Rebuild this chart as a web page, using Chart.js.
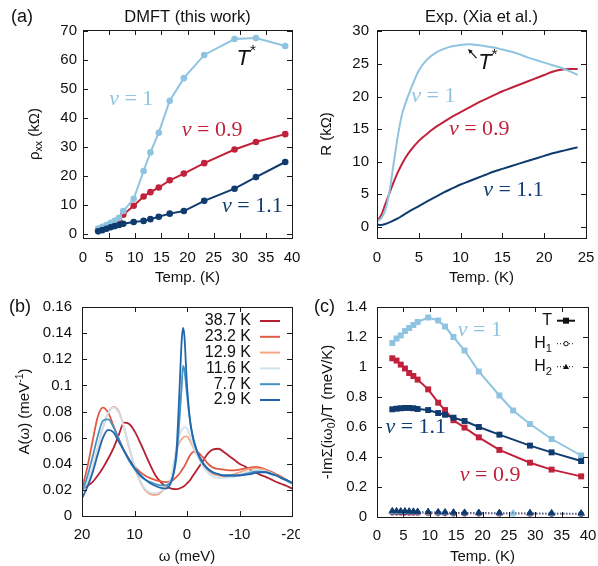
<!DOCTYPE html>
<html lang="en">
<head>
<meta charset="UTF-8">
<title>DMFT vs experiment</title>
<script src="https://cdn.jsdelivr.net/npm/chart.js"></script>
<style>
  body { margin: 0; background: #fff; }
  #wrap { position: relative; width: 598px; height: 566px; overflow: hidden; background: #fff; }
  canvas { position: absolute; }
</style>
</head>
<body>
<div id="wrap">
  <canvas id="dmft" width="300" height="290" style="left:0;top:0"></canvas>
  <canvas id="exp" width="298" height="290" style="left:300px;top:0"></canvas>
  <canvas id="spec" width="300" height="286" style="left:0;top:280px"></canvas>
  <canvas id="sigma" width="298" height="286" style="left:300px;top:280px"></canvas>
</div>
<script>
// ---- data ----
// (a) DMFT resistivity, kOhm
const tempA = [2.9, 3.7, 4.5, 5.3, 6.1, 6.9, 7.7, 9.7, 11.6, 12.9, 14.5, 16.6, 19.3, 23.2, 29.0, 33.1, 38.7];
const rhoNu1  = [1.9, 2.5, 3.1, 3.8, 4.5, 5.6, 7.9, 12.1, 21.7, 28.1, 34.9, 45.9, 53.7, 61.7, 67.2, 67.5, 64.8];
const rhoNu09 = [1.4, 1.9, 2.5, 3.1, 3.8, 4.8, 6.6, 9.7, 12.9, 14.4, 16.0, 18.5, 20.8, 24.4, 29.1, 31.7, 34.4];
const rhoNu11 = [0.9, 1.3, 1.8, 2.3, 2.7, 3.1, 3.5, 4.1, 4.5, 5.1, 5.9, 7.0, 7.9, 11.4, 15.6, 19.6, 24.8];

// (a) experiment, kOhm
const expT    = [0, 0.5, 1, 1.5, 2, 2.5, 3, 3.5, 4, 5, 6, 7, 8, 9, 10, 11, 12, 13, 14, 15, 16, 17, 18, 19, 20, 21, 22, 23, 24];
const expNu1  = [0.9, 1.3, 2.6, 5.5, 9.8, 14.0, 17.3, 19.3, 21.0, 24.0, 25.7, 26.7, 27.3, 27.7, 27.9, 28.0, 27.9, 27.7, 27.5, 27.2, 26.9, 26.5, 26.0, 25.6, 25.2, 24.8, 24.4, 23.9, 23.3];
const expNu09 = [0.8, 1.8, 3.5, 5.2, 6.9, 8.4, 9.7, 10.8, 11.7, 13.2, 14.3, 15.3, 16.1, 16.9, 17.6, 18.3, 19.0, 19.6, 20.2, 20.8, 21.3, 21.8, 22.3, 22.8, 23.3, 23.8, 24.1, 24.2, 24.2];
const expNu11 = [0.35, 0.3, 0.45, 0.7, 1.0, 1.3, 1.7, 2.1, 2.5, 3.2, 3.9, 4.6, 5.3, 5.9, 6.5, 7.0, 7.5, 8.0, 8.5, 8.9, 9.3, 9.7, 10.1, 10.5, 10.9, 11.3, 11.6, 11.9, 12.2];

// (b) spectral functions, meV^-1
const omega = [20, 19, 18, 17, 16, 15, 14, 13, 12, 11, 10, 9, 8, 7, 6, 5, 4, 3, 2.5, 2, 1.5, 1, 0.75, 0.5, 0,
               -0.5, -1, -1.5, -2, -3, -4, -5, -6, -7, -8, -9, -10, -11, -12, -13, -14, -15, -16, -17, -18, -19, -20];
const specLabels = ['38.7 K', '23.2 K', '12.9 K', '11.6 K', '7.7 K', '2.9 K'];
const spec387 = [0.0205, 0.023, 0.026, 0.031, 0.037, 0.044, 0.052, 0.062, 0.0715, 0.0705, 0.065, 0.057, 0.048, 0.039, 0.031, 0.026, 0.0225, 0.021, 0.0207, 0.0205, 0.021, 0.0218, 0.0224, 0.023, 0.025,
                 0.027, 0.030, 0.033, 0.036, 0.042, 0.048, 0.051, 0.0515, 0.049, 0.046, 0.043, 0.040, 0.038, 0.0355, 0.0335, 0.0315, 0.030, 0.028, 0.026, 0.0245, 0.023, 0.021];
const spec232 = [0.021, 0.037, 0.057, 0.076, 0.083, 0.079, 0.069, 0.059, 0.050, 0.043, 0.038, 0.034, 0.031, 0.029, 0.0275, 0.0265, 0.026, 0.027, 0.028, 0.030, 0.032, 0.035, 0.0365, 0.038, 0.042,
                 0.046, 0.0485, 0.0495, 0.049, 0.045, 0.040, 0.037, 0.036, 0.0355, 0.035, 0.035, 0.0355, 0.0362, 0.037, 0.0375, 0.037, 0.0355, 0.034, 0.032, 0.030, 0.0275, 0.025];
const spec129 = [0.0195, 0.026, 0.036, 0.052, 0.068, 0.079, 0.0835, 0.080, 0.068, 0.052, 0.038, 0.027, 0.020, 0.0168, 0.0162, 0.018, 0.023, 0.028, 0.040, 0.050, 0.056, 0.059, 0.060, 0.0607, 0.061,
                 0.058, 0.054, 0.050, 0.046, 0.040, 0.035, 0.032, 0.031, 0.0305, 0.031, 0.032, 0.0335, 0.035, 0.036, 0.0365, 0.036, 0.035, 0.033, 0.031, 0.029, 0.027, 0.025];
const spec116 = [0.019, 0.026, 0.036, 0.052, 0.068, 0.079, 0.083, 0.079, 0.068, 0.053, 0.039, 0.028, 0.021, 0.018, 0.0175, 0.019, 0.023, 0.029, 0.041, 0.053, 0.061, 0.066, 0.067, 0.068, 0.067,
                 0.062, 0.056, 0.051, 0.046, 0.038, 0.033, 0.030, 0.029, 0.029, 0.0295, 0.030, 0.031, 0.033, 0.034, 0.035, 0.035, 0.034, 0.033, 0.031, 0.029, 0.027, 0.025];
const spec77  = [0.018, 0.030, 0.045, 0.061, 0.073, 0.074, 0.068, 0.059, 0.050, 0.042, 0.036, 0.031, 0.028, 0.026, 0.0245, 0.0235, 0.0235, 0.027, 0.033, 0.045, 0.070, 0.100, 0.115, 0.112, 0.093,
                 0.075, 0.062, 0.054, 0.048, 0.040, 0.036, 0.033, 0.032, 0.031, 0.031, 0.031, 0.0315, 0.032, 0.033, 0.034, 0.034, 0.0335, 0.032, 0.031, 0.029, 0.027, 0.025];
const spec29  = [0.0135, 0.022, 0.033, 0.047, 0.060, 0.066, 0.064, 0.057, 0.050, 0.043, 0.037, 0.032, 0.028, 0.025, 0.023, 0.0215, 0.021, 0.026, 0.034, 0.050, 0.090, 0.135, 0.144, 0.138, 0.100,
                 0.076, 0.063, 0.055, 0.049, 0.041, 0.036, 0.0335, 0.032, 0.031, 0.031, 0.031, 0.031, 0.0315, 0.032, 0.033, 0.0335, 0.0335, 0.0325, 0.031, 0.029, 0.0275, 0.0255];

// (c) -Im Sigma(i w0)/T, meV/K
const tempC = [2.9, 3.7, 4.5, 5.3, 6.1, 6.9, 7.7, 9.7, 11.6, 12.9, 14.5, 16.6, 19.3, 23.2, 25.8, 29.0, 33.1, 38.7];
const sigNu1  = [1.16, 1.19, 1.21, 1.24, 1.26, 1.28, 1.30, 1.33, 1.31, 1.27, 1.20, 1.11, 0.97, 0.81, 0.71, 0.62, 0.52, 0.41];
const sigNu09 = [1.058, 1.043, 1.016, 0.99, 0.96, 0.94, 0.916, 0.851, 0.762, 0.713, 0.645, 0.596, 0.531, 0.447, null, 0.362, 0.316, 0.271];
const sigNu11 = [0.718, 0.722, 0.725, 0.727, 0.727, 0.725, 0.72, 0.713, 0.693, 0.682, 0.662, 0.64, 0.60, 0.549, null, 0.476, 0.431, 0.373];
const h1Nu1   = [0.030, 0.030, 0.029, 0.029, 0.028, 0.028, 0.027, 0.026, 0.025, 0.024, 0.024, 0.023, 0.022, 0.021, 0.021, 0.020, 0.019, 0.018];
const h1Nu09  = [0.028, 0.028, 0.027, 0.027, 0.026, 0.026, 0.025, 0.024, 0.023, 0.023, 0.022, 0.021, 0.021, 0.020, null, 0.019, 0.018, 0.017];
const h1Nu11  = [0.033, 0.033, 0.032, 0.032, 0.031, 0.031, 0.030, 0.029, 0.028, 0.027, 0.026, 0.026, 0.025, 0.024, null, 0.023, 0.022, 0.021];
const h2Nu1   = [0.036, 0.036, 0.035, 0.035, 0.034, 0.034, 0.033, 0.032, 0.031, 0.030, 0.029, 0.028, 0.027, 0.026, 0.025, 0.025, 0.024, 0.023];
const h2Nu09  = [0.034, 0.034, 0.033, 0.033, 0.032, 0.032, 0.031, 0.030, 0.029, 0.028, 0.028, 0.027, 0.026, 0.025, null, 0.024, 0.023, 0.022];
const h2Nu11  = [0.040, 0.040, 0.039, 0.039, 0.038, 0.037, 0.036, 0.035, 0.033, 0.032, 0.031, 0.030, 0.029, 0.028, null, 0.027, 0.026, 0.025];

// tick values
const ticksT40   = [0, 5, 10, 15, 20, 25, 30, 35, 40];
const ticksRho   = [0, 10, 20, 30, 40, 50, 60, 70];
const ticksT25   = [0, 5, 10, 15, 20, 25];
const ticksR     = [0, 5, 10, 15, 20, 25, 30];
const ticksOmega = [20, 10, 0, -10, -20];
const ticksA     = [0, 0.02, 0.04, 0.06, 0.08, 0.1, 0.12, 0.14, 0.16];
const ticksSig   = [0, 0.2, 0.4, 0.6, 0.8, 1, 1.2, 1.4];

// ---- styling ----
const SANS = "'Liberation Sans', Arial, sans-serif";
const SERIF = "'Liberation Serif', 'Times New Roman', serif";
const LBLUE = '#8fc4e1', RED = '#c0223b', NAVY = '#0f3b6e';
const specColors = ['#b51f31', '#e05a44', '#f4a582', '#cfe3ef', '#4393c3', '#2166ac'];

Chart.defaults.font.family = SANS;
Chart.defaults.font.size = 15;
Chart.defaults.color = '#111';

const xy = (xs, ys) => xs.map((x, i) => ({x: x, y: ys[i]}));

function drawRich(ctx, parts, x, y, size, family, color, align, rot) {
  ctx.save();
  ctx.translate(x, y);
  if (rot) ctx.rotate(rot);
  ctx.fillStyle = color;
  ctx.textBaseline = 'middle';
  ctx.textAlign = 'left';
  const segs = parts.map(([t, k]) => {
    const small = k === 'sub' || k === 'sup';
    const font = (k === 'i' ? 'italic ' : '') + (small ? size * 0.7 : size) + 'px ' + family;
    ctx.font = font;
    return {t, font, w: ctx.measureText(t).width, dy: k === 'sub' ? size * 0.3 : (k === 'sup' ? -size * 0.35 : 0)};
  });
  const total = segs.reduce((s, g) => s + g.w, 0);
  let cx = align === 'center' ? -total / 2 : (align === 'right' ? -total : 0);
  segs.forEach(g => { ctx.font = g.font; ctx.fillText(g.t, cx, g.dy); cx += g.w; });
  ctx.restore();
}

function marker(ctx, style, x, y, color) {
  ctx.save();
  ctx.fillStyle = color; ctx.strokeStyle = color; ctx.lineWidth = 1; ctx.setLineDash([]);
  ctx.beginPath();
  if (style === 'rect') { ctx.rect(x - 3, y - 3, 6, 6); ctx.fill(); }
  else if (style === 'circle') { ctx.arc(x, y, 2.2, 0, Math.PI * 2); ctx.fillStyle = '#fff'; ctx.fill(); ctx.stroke(); }
  else if (style === 'triangle') { ctx.moveTo(x, y - 3); ctx.lineTo(x + 3, y + 2.2); ctx.lineTo(x - 3, y + 2.2); ctx.closePath(); ctx.fill(); }
  ctx.restore();
}

// frame with inward ticks, annotations, legends, y titles
const decor = {
  id: 'decor',
  afterDraw(chart, args, o) {
    const {ctx, chartArea: a} = chart;
    const xs = chart.scales.x, ys = chart.scales.y;
    ctx.save();
    ctx.strokeStyle = '#1a1a1a';
    ctx.lineWidth = 1;
    ctx.beginPath();
    xs.ticks.forEach(t => {
      const p = Math.round(xs.getPixelForValue(t.value)) + 0.5;
      ctx.moveTo(p, a.bottom); ctx.lineTo(p, a.bottom - 5);
      ctx.moveTo(p, a.top); ctx.lineTo(p, a.top + 5);
    });
    ys.ticks.forEach(t => {
      const p = Math.round(ys.getPixelForValue(t.value)) + 0.5;
      ctx.moveTo(a.left, p); ctx.lineTo(a.left + 5, p);
      ctx.moveTo(a.right, p); ctx.lineTo(a.right - 5, p);
    });
    ctx.stroke();
    ctx.strokeRect(Math.round(a.left) + 0.5, Math.round(a.top) + 0.5, Math.round(a.right - a.left), Math.round(a.bottom - a.top));

    (o.texts || []).forEach(t => {
      let x = t.x, y = t.y;
      if (t.at === 'data') { x = xs.getPixelForValue(t.x); y = ys.getPixelForValue(t.y); }
      else if (t.at === 'area') { x = a.left + t.x; y = a.top + t.y; }
      else if (t.at === 'mid') { x = (a.left + a.right) / 2; y = a.top + t.y; }
      else if (t.at === 'ytitle') { y = (a.top + a.bottom) / 2; }
      drawRich(ctx, t.parts, x, y, t.size, t.family || SANS, t.color || '#111', t.align || 'left', t.rot || 0);
    });

    (o.arrows || []).forEach(r => {
      const x0 = xs.getPixelForValue(r.from[0]), y0 = ys.getPixelForValue(r.from[1]);
      const x1 = xs.getPixelForValue(r.to[0]), y1 = ys.getPixelForValue(r.to[1]);
      const ang = Math.atan2(y1 - y0, x1 - x0);
      ctx.strokeStyle = '#111'; ctx.fillStyle = '#111'; ctx.lineWidth = 1.2;
      ctx.beginPath(); ctx.moveTo(x0, y0); ctx.lineTo(x1 - 3 * Math.cos(ang), y1 - 3 * Math.sin(ang)); ctx.stroke();
      ctx.beginPath();
      ctx.moveTo(x1, y1);
      ctx.lineTo(x1 - 5 * Math.cos(ang - 0.45), y1 - 5 * Math.sin(ang - 0.45));
      ctx.lineTo(x1 - 5 * Math.cos(ang + 0.45), y1 - 5 * Math.sin(ang + 0.45));
      ctx.closePath(); ctx.fill();
    });

    const L = o.legend;
    if (L) {
      L.items.forEach((it, i) => {
        const y = a.top + L.top + i * L.gap;
        drawRich(ctx, it.parts, a.right - L.textRight, y, L.size, SANS, '#111', 'right', 0);
        ctx.strokeStyle = it.color; ctx.lineWidth = it.lw || 2;
        ctx.setLineDash(it.dash || []);
        ctx.beginPath(); ctx.moveTo(a.right - L.x0, y); ctx.lineTo(a.right - L.x1, y); ctx.stroke();
        ctx.setLineDash([]);
        if (it.point) marker(ctx, it.point, a.right - L.xm, y, it.color);
      });
    }
    ctx.restore();
  }
};
Chart.register(decor);

function options(c) {
  return {
    responsive: false,
    animation: false,
    layout: {padding: c.pad},
    plugins: {legend: {display: false}, tooltip: {enabled: false}, decor: c.decor},
    scales: {
      x: {
        type: 'linear', min: c.xMin, max: c.xMax, reverse: !!c.xRev,
        grid: {display: false, drawTicks: false}, border: {display: false},
        ticks: {padding: c.xPad, maxRotation: 0, autoSkip: false, callback: v => String(v)},
        afterBuildTicks: s => { s.ticks = c.xTicks.map(v => ({value: v})); },
        afterFit: s => { s.height = c.xH; s.paddingLeft = 0; s.paddingRight = 0; },
        title: {display: true, text: c.xTitle, padding: {top: 0, bottom: c.xTitlePad}}
      },
      y: {
        type: 'linear', min: c.yMin, max: c.yMax,
        grid: {display: false, drawTicks: false}, border: {display: false},
        ticks: {padding: c.yPad, autoSkip: false, callback: v => String(v)},
        afterBuildTicks: s => { s.ticks = c.yTicks.map(v => ({value: v})); },
        afterFit: s => { s.width = c.yW; s.paddingTop = 0; s.paddingBottom = 0; }
      }
    }
  };
}

const nu = (tail, color) => ({parts: [['ν', 'i'], [' = ' + tail, '']], size: 22, family: SERIF, color: color});

// ---- (a) DMFT ----
new Chart(document.getElementById('dmft'), {
  type: 'line',
  data: {
    datasets: [
      {label: 'ν = 1.1', data: xy(tempA, rhoNu11), borderColor: NAVY, backgroundColor: NAVY, order: 0},
      {label: 'ν = 1', data: xy(tempA, rhoNu1), borderColor: LBLUE, backgroundColor: LBLUE, order: 1},
      {label: 'ν = 0.9', data: xy(tempA, rhoNu09), borderColor: RED, backgroundColor: RED, order: 2}
    ].map(d => Object.assign(d, {borderWidth: 2, pointRadius: 3.3, pointBorderWidth: 0, tension: 0}))
  },
  options: options({
    pad: {left: 0, top: 30, right: 8, bottom: 0},
    xMin: 0, xMax: 40, xTicks: ticksT40, xH: 52, xPad: 11, xTitle: 'Temp. (K)', xTitlePad: 3,
    yMin: -1.4, yMax: 70.3, yTicks: ticksRho, yW: 83, yPad: 6,
    decor: {
      texts: [
        {at: 'canvas', x: 11, y: 17, parts: [['(a)', '']], size: 18},
        {at: 'mid', y: -13, parts: [['DMFT (this work)', '']], size: 16.5, align: 'center'},
        {at: 'ytitle', x: 35, parts: [['ρ', ''], ['xx', 'sub'], [' (kΩ)', '']], size: 15, align: 'center', rot: -Math.PI / 2},
        Object.assign({at: 'data', x: 5.0, y: 46.5}, nu('1', LBLUE)),
        Object.assign({at: 'data', x: 18.9, y: 35.9}, nu('0.9', RED)),
        Object.assign({at: 'data', x: 26.6, y: 9.7}, nu('1.1', NAVY)),
        {at: 'data', x: 29.4, y: 60.5, parts: [['T', 'i'], ['*', 'sup']], size: 22}
      ]
    }
  })
});

// ---- (a) experiment ----
new Chart(document.getElementById('exp'), {
  type: 'line',
  data: {
    datasets: [
      {label: 'ν = 1', data: xy(expT, expNu1), borderColor: LBLUE, order: 0},
      {label: 'ν = 0.9', data: xy(expT, expNu09), borderColor: RED, order: 1},
      {label: 'ν = 1.1', data: xy(expT, expNu11), borderColor: NAVY, order: 2}
    ].map(d => Object.assign(d, {borderWidth: 2, pointRadius: 0, cubicInterpolationMode: 'monotone'}))
  },
  options: options({
    pad: {left: 0, top: 30, right: 12, bottom: 0},
    xMin: 0, xMax: 25, xTicks: ticksT25, xH: 52, xPad: 11, xTitle: 'Temp. (K)', xTitlePad: 3,
    yMin: -1.7, yMax: 30.2, yTicks: ticksR, yW: 77, yPad: 8,
    decor: {
      texts: [
        {at: 'mid', y: -13, parts: [['Exp. (Xia et al.)', '']], size: 16.5, align: 'center'},
        {at: 'ytitle', x: 27, parts: [['R (kΩ)', '']], size: 15, align: 'center', rot: -Math.PI / 2},
        Object.assign({at: 'data', x: 4.1, y: 20.1}, nu('1', LBLUE)),
        Object.assign({at: 'data', x: 8.6, y: 15.0}, nu('0.9', RED)),
        Object.assign({at: 'data', x: 12.7, y: 5.7}, nu('1.1', NAVY)),
        {at: 'data', x: 12.1, y: 25.2, parts: [['T', 'i'], ['*', 'sup']], size: 22}
      ],
      arrows: [{from: [11.9, 25.9], to: [10.9, 27.3]}]
    }
  })
});

// ---- (b) spectral function ----
const specSeries = [spec387, spec232, spec129, spec116, spec77, spec29];
new Chart(document.getElementById('spec'), {
  type: 'line',
  data: {
    datasets: specSeries.map((s, i) => ({
      label: specLabels[i], data: xy(omega, s), borderColor: specColors[i],
      borderWidth: 1.8, pointRadius: 0, cubicInterpolationMode: 'monotone', order: 5 - i
    }))
  },
  options: options({
    pad: {left: 0, top: 27, right: 8, bottom: 0},
    xMin: -20, xMax: 20, xRev: true, xTicks: ticksOmega, xH: 50, xPad: 10, xTitle: 'ω (meV)', xTitlePad: 0,
    yMin: 0, yMax: 0.16, yTicks: ticksA, yW: 82, yPad: 10,
    decor: {
      texts: [
        {at: 'canvas', x: 9, y: 27.5, parts: [['(b)', '']], size: 18},
        {at: 'ytitle', x: 25, parts: [['A(ω) (meV', ''], ['-1', 'sup'], [')', '']], size: 15, align: 'center', rot: -Math.PI / 2}
      ],
      legend: {
        top: 14, gap: 15.8, size: 16, textRight: 41, x0: 32, x1: 12,
        items: specLabels.map((l, i) => ({parts: [[l, '']], color: specColors[i]}))
      }
    }
  })
});

// ---- (c) scattering rate ----
const sigSets = [
  {label: 'T ν = 1.1', data: sigNu11, color: NAVY},
  {label: 'T ν = 1', data: sigNu1, color: LBLUE},
  {label: 'T ν = 0.9', data: sigNu09, color: RED}
].map((d, i) => ({
  label: d.label, data: xy(tempC, d.data), borderColor: d.color, backgroundColor: d.color,
  borderWidth: 2, pointStyle: 'rect', pointRadius: 4.2, pointBorderWidth: 0, spanGaps: true, order: i + 2
}));
const hSets = [
  {label: 'H1 ν = 0.9', data: h1Nu09, color: RED, p: 'circle'},
  {label: 'H1 ν = 1', data: h1Nu1, color: LBLUE, p: 'circle'},
  {label: 'H1 ν = 1.1', data: h1Nu11, color: NAVY, p: 'circle'},
  {label: 'H2 ν = 0.9', data: h2Nu09, color: RED, p: 'triangle'},
  {label: 'H2 ν = 1', data: h2Nu1, color: LBLUE, p: 'triangle'},
  {label: 'H2 ν = 1.1', data: h2Nu11, color: NAVY, p: 'triangle'}
].map((d, i) => ({
  label: d.label, data: xy(tempC, d.data), borderColor: d.color,
  backgroundColor: d.p === 'circle' ? '#fff' : d.color,
  borderWidth: 1, borderDash: [1, 2], pointStyle: d.p, pointRadius: d.p === 'circle' ? 2.4 : 3.6,
  pointBorderWidth: 1, spanGaps: true, order: 10 - i
}));
new Chart(document.getElementById('sigma'), {
  type: 'line',
  data: {datasets: sigSets.concat(hSets)},
  options: options({
    pad: {left: 0, top: 27, right: 10, bottom: 0},
    xMin: 0, xMax: 40, xTicks: ticksT40, xH: 49, xPad: 10, xTitle: 'Temp. (K)', xTitlePad: 0,
    yMin: 0, yMax: 1.4, yTicks: ticksSig, yW: 77, yPad: 10,
    decor: {
      texts: [
        {at: 'canvas', x: 14, y: 27.5, parts: [['(c)', '']], size: 18},
        {at: 'ytitle', x: 28, parts: [['-ImΣ(iω', ''], ['0', 'sub'], [')/T (meV/K)', '']], size: 15, align: 'center', rot: -Math.PI / 2},
        Object.assign({at: 'data', x: 15.3, y: 1.246}, nu('1', LBLUE)),
        Object.assign({at: 'data', x: 1.6, y: 0.60}, nu('1.1', NAVY)),
        Object.assign({at: 'data', x: 15.7, y: 0.278}, nu('0.9', RED))
      ],
      legend: {
        top: 13.7, gap: 23, size: 16, textRight: 36, x0: 31, x1: 13, xm: 22,
        items: [
          {parts: [['T', '']], color: '#111', lw: 2, point: 'rect'},
          {parts: [['H', ''], ['1', 'sub']], color: '#111', lw: 1, dash: [1, 2], point: 'circle'},
          {parts: [['H', ''], ['2', 'sub']], color: '#111', lw: 1, dash: [1, 2], point: 'triangle'}
        ]
      }
    }
  })
});
</script>
</body>
</html>
